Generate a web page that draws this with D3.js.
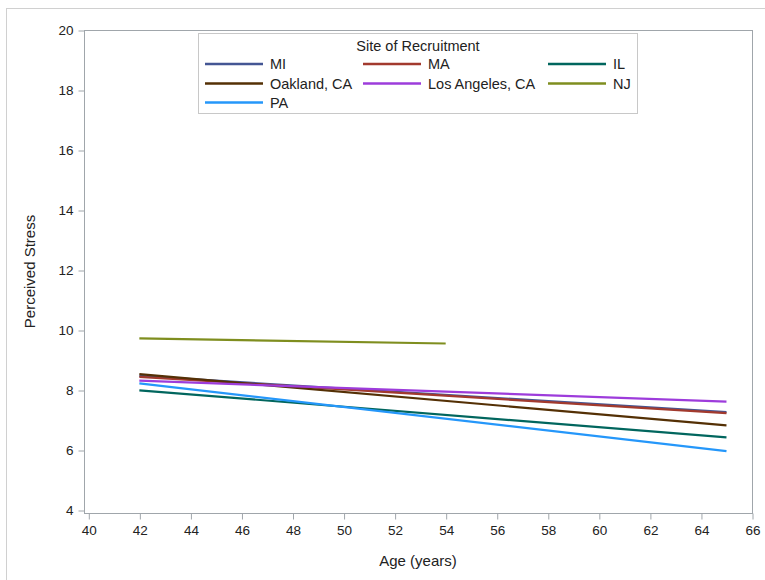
<!DOCTYPE html>
<html>
<head>
<meta charset="utf-8">
<script src="https://cdn.jsdelivr.net/npm/d3@7"></script>
<style>
  body { margin: 0; background: #fff; }
  svg { display: block; font-family: "Liberation Sans", Arial, sans-serif; }
</style>
</head>
<body>
<svg id="chart" width="765" height="580"></svg>
<script>
// Fitted perceived-stress lines by recruitment site
const sites = ["MI", "MA", "IL", "Oakland, CA", "Los Angeles, CA", "NJ", "PA"];
const siteColors = ["#445694", "#A23A2E", "#01665E", "#543005", "#9D3CDB", "#7F8E1F", "#2597FA"];
const startAge = [42, 42, 42, 42, 42, 42, 42];
const endAge   = [65, 65, 65, 65, 65, 54, 65];
const startStress = [8.47, 8.44, 7.99, 8.53, 8.31, 9.72, 8.22];
const endStress   = [7.26, 7.23, 6.42, 6.82, 7.61, 9.55, 5.96];
const xTicks = d3.range(40, 67, 2);
const yTicks = d3.range(4, 21, 2);

const svg = d3.select("#chart");

// outer frame
svg.append("rect")
  .attr("x", 6.5).attr("y", 8.5)
  .attr("width", 780).attr("height", 600)
  .attr("fill", "none").attr("stroke", "#d0d0d0");

const plot = { left: 84, right: 752, top: 30, bottom: 513 };

const x = d3.scaleLinear().domain([40, 66]).range([88.3, 752]);
const y = d3.scaleLinear().domain([4, 20]).range([510, 30]);

const axisColor = "#a0a6ab";
const textColor = "#222";

// plot frame
svg.append("rect")
  .attr("x", plot.left + 0.5).attr("y", plot.top + 0.5)
  .attr("width", plot.right - plot.left).attr("height", plot.bottom - plot.top)
  .attr("fill", "none").attr("stroke", axisColor);

// x axis
const gx = svg.append("g")
  .attr("transform", `translate(0.5,${plot.bottom + 0.5})`)
  .call(d3.axisBottom(x).tickValues(xTicks).tickSize(6).tickPadding(6).tickFormat(d3.format("d")));
gx.select(".domain").remove();
gx.selectAll("line").attr("stroke", axisColor);
gx.selectAll("text").attr("fill", textColor).attr("font-size", 13.5)
  .attr("font-family", "Liberation Sans, Arial, sans-serif");

// y axis
const gy = svg.append("g")
  .attr("transform", `translate(${plot.left + 0.5},0.5)`)
  .call(d3.axisLeft(y).tickValues(yTicks).tickSize(6).tickPadding(5).tickFormat(d3.format("d")));
gy.select(".domain").remove();
gy.selectAll("line").attr("stroke", axisColor);
gy.selectAll("text").attr("fill", textColor).attr("font-size", 13.5)
  .attr("font-family", "Liberation Sans, Arial, sans-serif");

// axis titles
svg.append("text")
  .attr("x", (plot.left + plot.right) / 2).attr("y", 566)
  .attr("text-anchor", "middle").attr("font-size", 15).attr("fill", textColor)
  .text("Age (years)");
svg.append("text")
  .attr("transform", `translate(35,${(plot.top + plot.bottom) / 2}) rotate(-90)`)
  .attr("text-anchor", "middle").attr("font-size", 15).attr("fill", textColor)
  .text("Perceived Stress");

// fit lines
const lineData = sites.map((s, i) => ({
  site: s, color: siteColors[i],
  pts: [[startAge[i], startStress[i]], [endAge[i], endStress[i]]]
}));
const line = d3.line().x(d => x(d[0])).y(d => y(d[1]));
svg.append("g").selectAll("path")
  .data(lineData).join("path")
  .attr("d", d => line(d.pts))
  .attr("fill", "none")
  .attr("stroke", d => d.color)
  .attr("stroke-width", 2.2);

// legend
const lg = svg.append("g");
lg.append("rect")
  .attr("x", 198.5).attr("y", 33.5).attr("width", 439).attr("height", 80)
  .attr("fill", "#fff").attr("stroke", "#c8c8c8");
lg.append("text")
  .attr("x", 418).attr("y", 51)
  .attr("text-anchor", "middle").attr("font-size", 14.5).attr("fill", textColor)
  .text("Site of Recruitment");
const colX = [205, 363, 548];
const rowY = [64, 83.5, 102.5];
lineData.forEach((d, i) => {
  const cx = colX[i % 3], cy = rowY[Math.floor(i / 3)];
  lg.append("line")
    .attr("x1", cx).attr("x2", cx + 58).attr("y1", cy).attr("y2", cy)
    .attr("stroke", d.color).attr("stroke-width", 2.5);
  lg.append("text")
    .attr("x", cx + 65).attr("y", cy + 5)
    .attr("font-size", 14.5).attr("fill", textColor)
    .text(d.site);
});
</script>
</body>
</html>
